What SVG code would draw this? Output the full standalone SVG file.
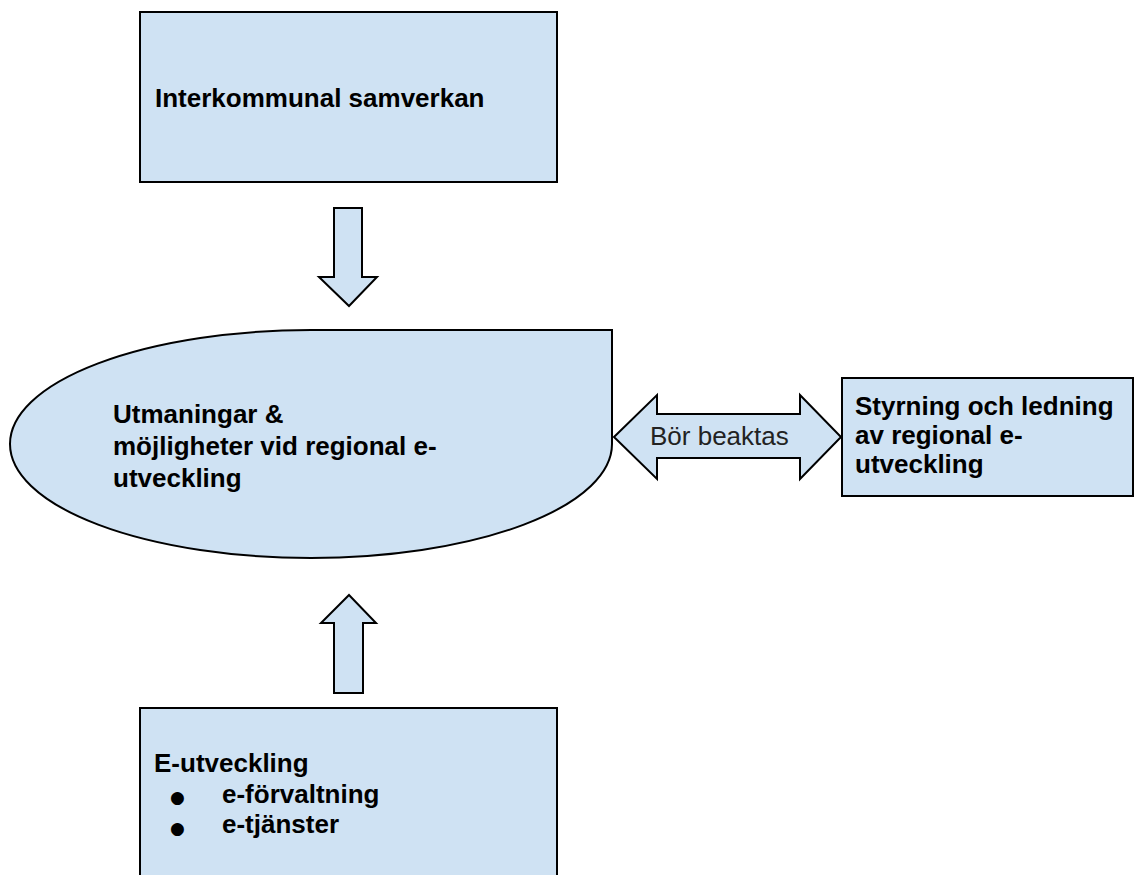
<svg xmlns="http://www.w3.org/2000/svg" width="1135" height="875" viewBox="0 0 1135 875">
<style>
.shape{fill:#cfe2f3;stroke:#000;stroke-width:2;stroke-linejoin:miter}
.b{font-family:"Liberation Sans",Arial,sans-serif;font-weight:bold;font-size:26px;fill:#000}
.r{font-family:"Liberation Sans",Arial,sans-serif;font-size:26px;fill:#222}
.dot{font-family:"DejaVu Sans",sans-serif;font-size:17px;fill:#000}
</style>
<rect width="1135" height="875" fill="#fff"/>
<g id="node-interkommunal">
<rect class="shape" x="140" y="12" width="417" height="170"/>
<text class="b" x="155" y="107">Interkommunal samverkan</text>
</g>
<g id="node-utmaningar">
<path class="shape" d="M311,330 L612,330 L612,444 A301,114 0 0 1 311,558 A301,114 0 0 1 10,444 A301,114 0 0 1 311,330 Z"/>
<text class="b" x="113" y="423">Utmaningar &amp;</text>
<text class="b" x="113" y="455">möjligheter vid regional e-</text>
<text class="b" x="113" y="487">utveckling</text>
</g>
<g id="node-styrning">
<rect class="shape" x="842" y="378" width="291" height="118"/>
<text class="b" x="855" y="415">Styrning och ledning</text>
<text class="b" x="855" y="444">av regional e-</text>
<text class="b" x="855" y="473">utveckling</text>
</g>
<g id="node-eutveckling">
<rect class="shape" x="140" y="708" width="417" height="200"/>
<text class="b" x="154" y="772">E-utveckling</text>
<text class="dot" x="170" y="803">●</text>
<text class="b" x="222" y="803">e-förvaltning</text>
<text class="dot" x="170" y="834">●</text>
<text class="b" x="222" y="833">e-tjänster</text>
</g>
<g id="connectors">
<polygon class="shape" points="334,208 362,208 362,277 377,277 349,306 319,277 334,277"/>
<polygon class="shape" points="349,595 376,623 363,623 363,693 334,693 334,623 321,623"/>
<polygon class="shape" points="614,437 657,395 657,414 800,414 800,395 841,437 800,479 800,458 657,458 657,479"/>
<text class="r" x="650" y="445">Bör beaktas</text>
</g>
</svg>
